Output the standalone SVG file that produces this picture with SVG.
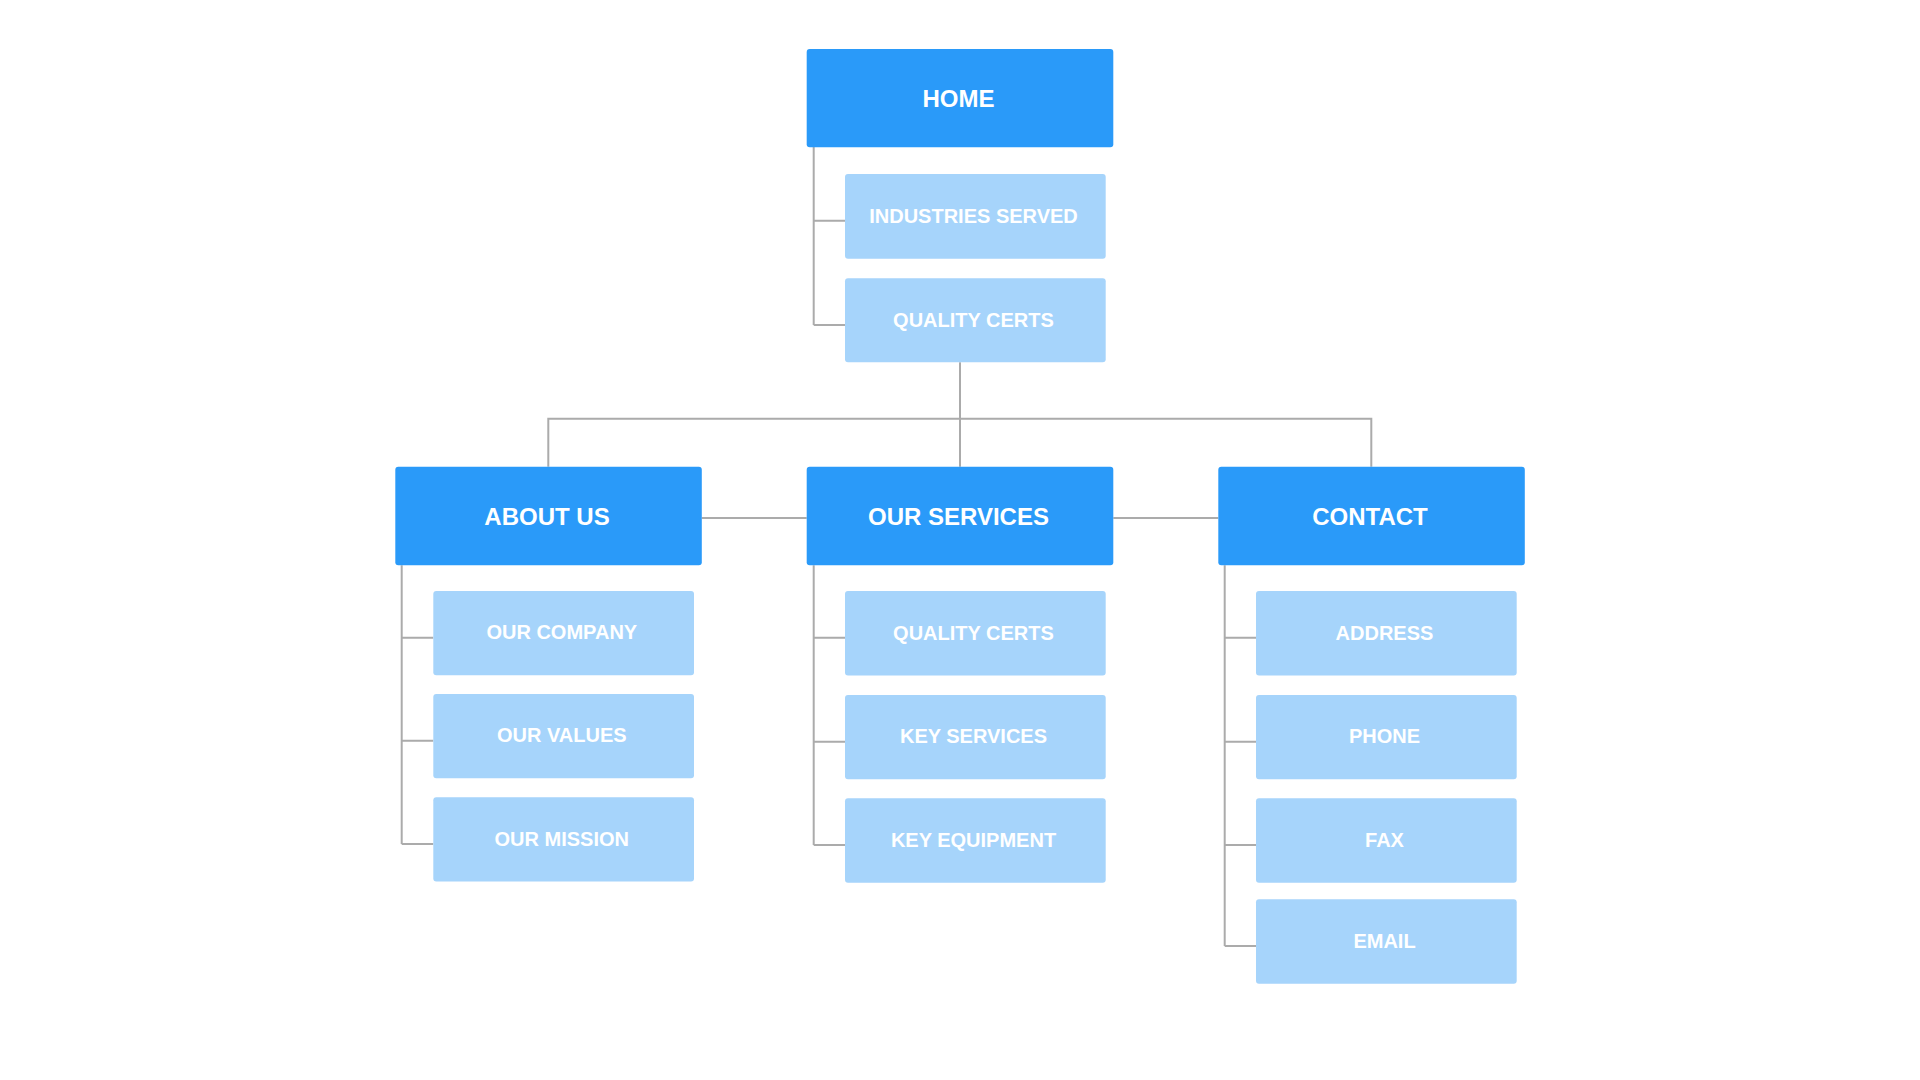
<svg xmlns="http://www.w3.org/2000/svg" width="1920" height="1080" viewBox="0 0 1920 1080">
<style>
.main rect{fill:#2A9AF9}
.sub rect{fill:#A6D4FB}
.main text{font-family:"Liberation Sans",Arial,sans-serif;font-weight:bold;font-size:24px;fill:#fff;text-anchor:middle}
.sub text{font-family:"Liberation Sans",Arial,sans-serif;font-weight:bold;font-size:20px;fill:#fff;text-anchor:middle}
#connectors path{fill:none;stroke:#ababab;stroke-width:2}
</style>
<rect width="1920" height="1080" fill="#fff"/>
<g id="connectors">
<path d="M813.7 147V325M813.7 220.7H845M813.7 325H845"/>
<path d="M960 362.3V466.7M548.3 466.7V418.7H1371.3V466.7"/>
<path d="M701.7 518H806.7M1113.3 518H1218.3"/>
<path d="M401.7 565.3V844M401.7 637.7H433.3M401.7 740.7H433.3M401.7 844H433.3"/>
<path d="M813.7 565.3V845M813.7 637.7H845M813.7 741.7H845M813.7 845H845"/>
<path d="M1224.7 565.3V946M1224.7 637.7H1256M1224.7 741.7H1256M1224.7 845H1256M1224.7 946H1256"/>
</g>
<g id="home" class="main"><rect x="806.7" y="49" width="306.6" height="98.3" rx="3"/><text x="958.5" y="107.2">HOME</text></g>
<g id="industries-served" class="sub"><rect x="845" y="174" width="260.7" height="84.7" rx="3"/><text x="973.5" y="222.6">INDUSTRIES SERVED</text></g>
<g id="quality-certs-top" class="sub"><rect x="845" y="278.3" width="260.7" height="84" rx="3"/><text x="973.5" y="326.6">QUALITY CERTS</text></g>
<g id="about-us" class="main"><rect x="395.3" y="466.7" width="306.5" height="98.6" rx="3"/><text x="547" y="525">ABOUT US</text></g>
<g id="our-services" class="main"><rect x="806.7" y="466.7" width="306.6" height="98.6" rx="3"/><text x="958.5" y="525">OUR SERVICES</text></g>
<g id="contact" class="main"><rect x="1218.3" y="466.7" width="306.5" height="98.6" rx="3"/><text x="1370" y="525">CONTACT</text></g>
<g id="our-company" class="sub"><rect x="433.3" y="591" width="260.7" height="84.3" rx="3"/><text x="561.8" y="639.4">OUR COMPANY</text></g>
<g id="our-values" class="sub"><rect x="433.3" y="694" width="260.7" height="84.3" rx="3"/><text x="561.8" y="742.4">OUR VALUES</text></g>
<g id="our-mission" class="sub"><rect x="433.3" y="797.3" width="260.7" height="84.3" rx="3"/><text x="561.8" y="845.7">OUR MISSION</text></g>
<g id="quality-certs" class="sub"><rect x="845" y="591" width="260.7" height="84.5" rx="3"/><text x="973.5" y="639.5">QUALITY CERTS</text></g>
<g id="key-services" class="sub"><rect x="845" y="695" width="260.7" height="84.3" rx="3"/><text x="973.5" y="743.4">KEY SERVICES</text></g>
<g id="key-equipment" class="sub"><rect x="845" y="798.3" width="260.7" height="84.4" rx="3"/><text x="973.5" y="846.8">KEY EQUIPMENT</text></g>
<g id="address" class="sub"><rect x="1256" y="591" width="260.7" height="84.5" rx="3"/><text x="1384.5" y="639.5">ADDRESS</text></g>
<g id="phone" class="sub"><rect x="1256" y="695" width="260.7" height="84.3" rx="3"/><text x="1384.5" y="743.4">PHONE</text></g>
<g id="fax" class="sub"><rect x="1256" y="798.3" width="260.7" height="84.4" rx="3"/><text x="1384.5" y="846.8">FAX</text></g>
<g id="email" class="sub"><rect x="1256" y="899.3" width="260.7" height="84.4" rx="3"/><text x="1384.5" y="947.8">EMAIL</text></g>
</svg>
